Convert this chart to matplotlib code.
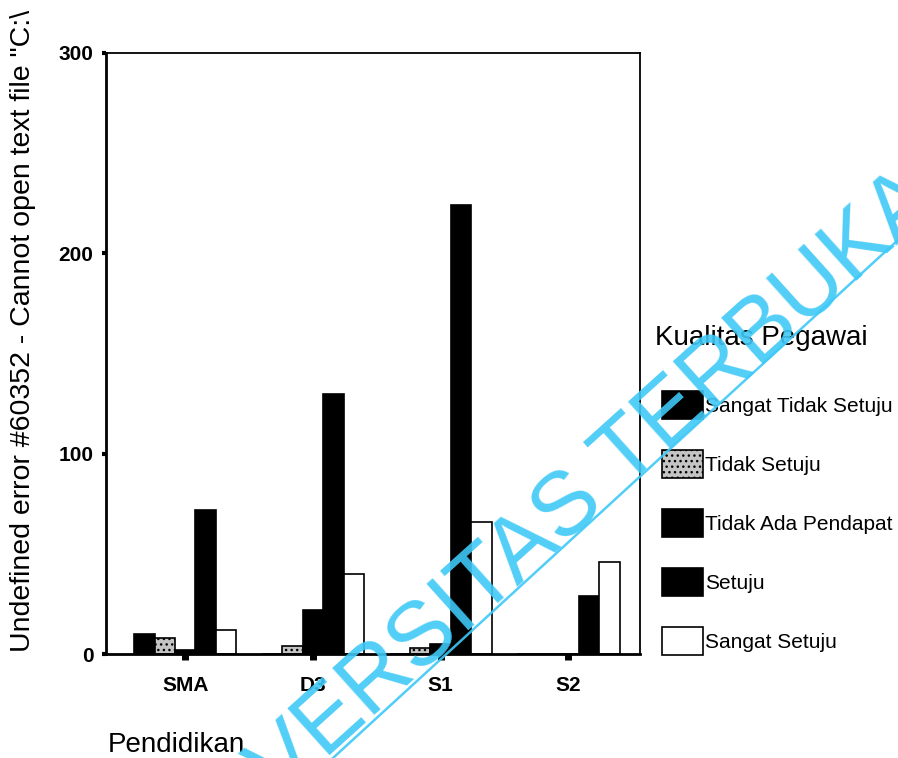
import numpy as np
import matplotlib
matplotlib.use("Agg")
import matplotlib.pyplot as plt
from matplotlib.patches import Patch
from matplotlib.lines import Line2D

plt.rcParams['font.family'] = ['Liberation Sans', 'DejaVu Sans']

groups = ['SMA', 'D3', 'S1', 'S2']
series = ['Sangat Tidak Setuju', 'Tidak Setuju', 'Tidak Ada Pendapat', 'Setuju', 'Sangat Setuju']
sangat_tidak_setuju = [10, 0, 0, 0]
tidak_setuju = [8, 4, 3, 0]
tidak_ada_pendapat = [2, 22, 5, 0]
setuju = [72, 130, 224, 29]
sangat_setuju = [12, 40, 66, 46]
yticks = [0, 100, 200, 300]

values = [sangat_tidak_setuju, tidak_setuju, tidak_ada_pendapat, setuju, sangat_setuju]
faces = ['black', '#c4c4c4', 'black', 'black', 'white']
hatches = [None, '...', None, None, None]

W, H = 898, 758
fig = plt.figure(figsize=(W / 100, H / 100), dpi=100)
ax = fig.add_axes([106 / W, 1 - 654 / H, (640 - 106) / W, (654 - 53) / H])

x = np.arange(len(groups))
bw = 0.16
for i, vals in enumerate(values):
    ax.bar(x + (i - 2) * bw, vals, width=bw, color=faces[i], edgecolor='black',
           linewidth=1.2, hatch=hatches[i])

ax.set_xlim(-0.62, 3.56)
ax.set_ylim(0, 300)
ax.set_yticks(yticks)
ax.set_xticks(x)
ax.set_xticklabels(groups)
ax.tick_params(axis='x', direction='out', length=4.5, width=5, pad=11, labelsize=15)
ax.tick_params(axis='y', direction='out', length=3, width=3, pad=6, labelsize=15)
for lab in ax.get_xticklabels() + ax.get_yticklabels():
    lab.set_fontweight('bold')
for s in ax.spines.values():
    s.set_linewidth(1.3)
ax.spines['left'].set_linewidth(2)
ax.spines['bottom'].set_linewidth(2)

fig.text(23 / W, 1 - 652 / H,
         'Undefined error #60352 - Cannot open text file "C:\\',
         rotation=90, rotation_mode='anchor', ha='left', va='center', fontsize=20.5)
fig.text(108 / W, 1 - 745 / H, 'Pendidikan', ha='left', va='center', fontsize=20)

fig.text(655 / W, 1 - 338 / H, 'Kualitas Pegawai', ha='left', va='center', fontsize=20)
handles = [Patch(facecolor=faces[i], edgecolor='black', hatch=hatches[i], linewidth=1.2)
           for i in range(len(series))]
fig.legend(handles, series, loc='upper left', bbox_to_anchor=(662 / W, 1 - 391 / H),
           frameon=False, borderpad=0, borderaxespad=0, fontsize=15,
           handlelength=1.95, handleheight=1.69, handletextpad=0.1, labelspacing=1.49)

# watermark
fig.text(537 / W, 1 - 537 / H, 'UNIVERSITAS TERBUKA', rotation=42, rotation_mode='anchor',
         ha='center', va='center', fontsize=65, color='#3ec9f7', alpha=0.9, zorder=10)
fig.add_artist(Line2D([333 / W, 1.0], [1 - 758 / H, 1 - 240 / H], transform=fig.transFigure,
                      color='#3ec9f7', linewidth=1.8, alpha=0.9, zorder=10))

fig.savefig('out.png', dpi=100)
